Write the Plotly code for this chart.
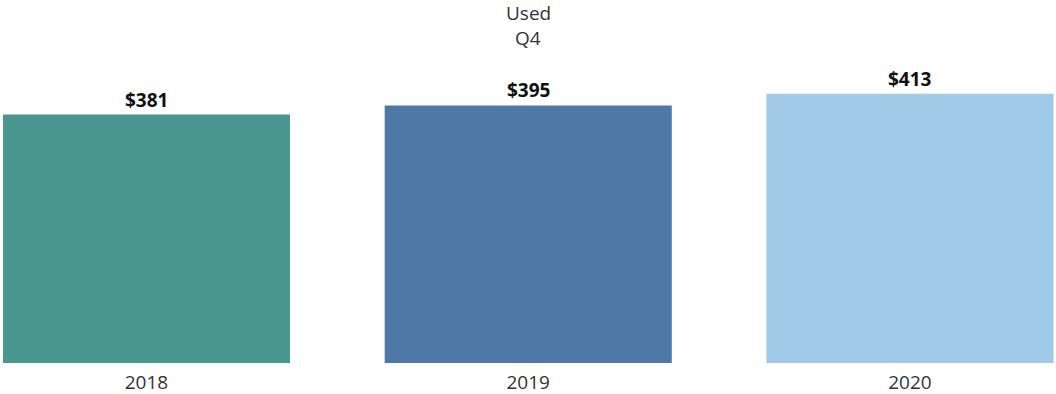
import plotly.graph_objects as go

years = ["2018", "2019", "2020"]
values = [381, 395, 413]
colors = ["#4A978F", "#4E78A6", "#A0CAE8"]

fig = go.Figure()
fig.add_trace(go.Bar(
    x=years,
    y=values,
    marker=dict(color=colors, line=dict(width=0)),
    hoverinfo="skip",
))

# value labels above each bar (category axis: x given as category index)
for i, v in enumerate(values):
    fig.add_annotation(
        x=i, y=v, xref="x", yref="y", text=f"<b>${v}</b>", showarrow=False,
        yanchor="bottom", yshift=0,
        font=dict(family="Open Sans", size=19, color="#111111"),
    )

# two-line header
fig.add_annotation(x=0.5, xref="paper", y=1, yref="paper", yanchor="middle",
                   yshift=47, text="Used", showarrow=False,
                   font=dict(family="Open Sans", size=19, color="#333333"))
fig.add_annotation(x=0.5, xref="paper", y=1, yref="paper", yanchor="middle",
                   yshift=22, text="Q4", showarrow=False,
                   font=dict(family="Open Sans", size=19, color="#333333"))

fig.update_layout(
    width=1056, height=394,
    margin=dict(l=0, r=0, t=60, b=31),
    paper_bgcolor="white", plot_bgcolor="white",
    bargap=0.248,
    showlegend=False,
    xaxis=dict(type="category", range=[-0.3837, 2.3825], showgrid=False,
               showline=False, zeroline=False, ticks="", ticklabelstandoff=6,
               tickfont=dict(family="Open Sans", size=19, color="#333333")),
    yaxis=dict(range=[0, 464.7], visible=False),
)

fig.write_html("out.html")
